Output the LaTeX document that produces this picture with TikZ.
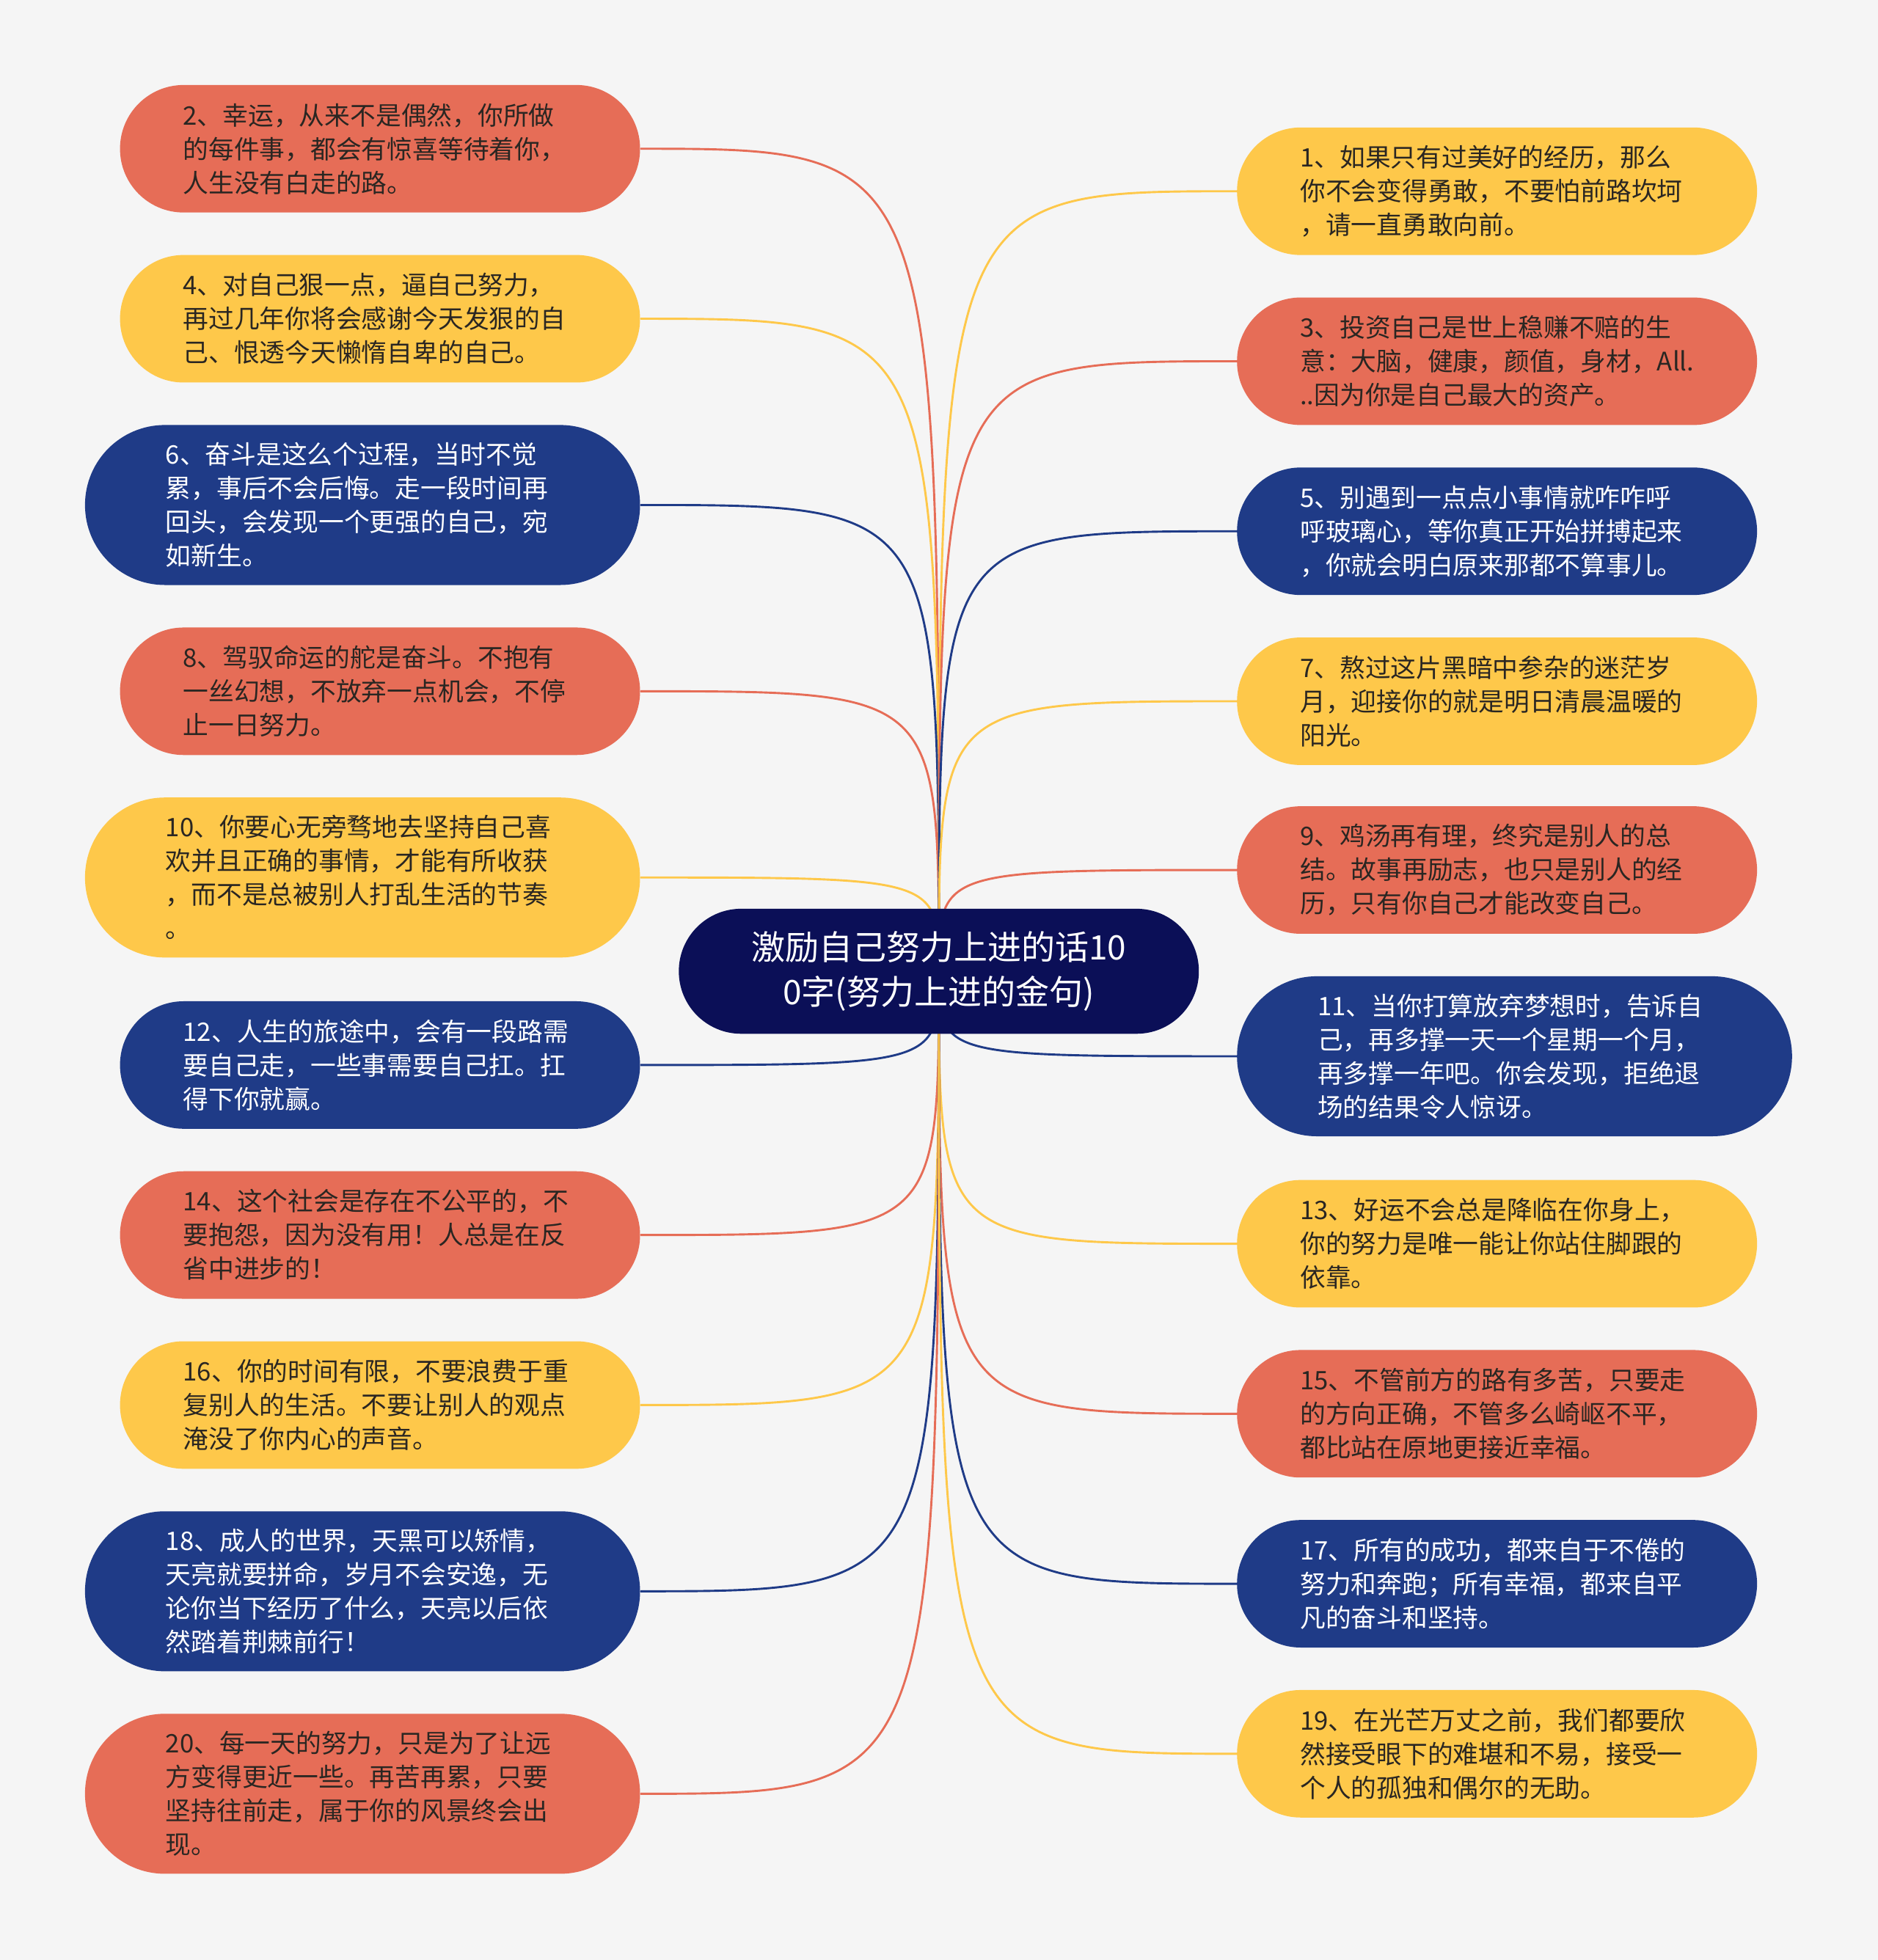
\documentclass[tikz,border=0pt]{standalone}
\usepackage{fontspec}
\setmainfont{Noto Sans CJK SC}
\pgfdeclarelayer{back}
\pgfdeclarelayer{bg}
\pgfsetlayers{back,bg,main}
\definecolor{cred}{HTML}{E66D57}
\definecolor{cyel}{HTML}{FEC84A}
\definecolor{cblue}{HTML}{1F3B87}
\definecolor{cnavy}{HTML}{0B0F57}
\definecolor{cdark}{HTML}{2A2622}
\definecolor{cbg}{HTML}{F5F5F5}
\tikzset{
  leaf/.style={align=left, text width=315pt, inner sep=0pt, font=\fontsize{20.4}{27}\selectfont},
  std/.style={leaf, minimum width=416pt, minimum height=102pt, rounded corners=50.9pt},
  wide/.style={leaf, minimum width=444pt, minimum height=128pt, rounded corners=63.9pt},
  redn/.style={fill=cred, text=cdark},
  yeln/.style={fill=cyel, text=cdark},
  bluen/.style={fill=cblue, text=white},
  rootn/.style={fill=cnavy, text=white, align=center, inner sep=0pt, minimum width=416pt, minimum height=100pt, rounded corners=49.9pt, font=\fontsize{27}{35.5}\selectfont},
  link/.style={line width=1.7pt},
}
\begin{document}
\begin{tikzpicture}[x=1pt,y=-1pt]
\begin{pgfonlayer}{back}
\fill[cbg] (0,0) rectangle (1502,1568);
\end{pgfonlayer}
\useasboundingbox (0,0) rectangle (1502,1568);

\node[rootn] (c) at (751,777) {激励自己努力上进的话10\\0字(努力上进的金句)};

% left column
\node[std,redn] (n2) at (304,119) {2、幸运，从来不是偶然，你所做\\的每件事，都会有惊喜等待着你，\\人生没有白走的路。};
\node[std,yeln] (n4) at (304,255) {4、对自己狠一点，逼自己努力，\\再过几年你将会感谢今天发狠的自\\己、恨透今天懒惰自卑的自己。};
\node[wide,bluen] (n6) at (290,404) {6、奋斗是这么个过程，当时不觉\\累，事后不会后悔。走一段时间再\\回头，会发现一个更强的自己，宛\\如新生。};
\node[std,redn] (n8) at (304,553) {8、驾驭命运的舵是奋斗。不抱有\\一丝幻想，不放弃一点机会，不停\\止一日努力。};
\node[wide,yeln] (n10) at (290,702) {10、你要心无旁骛地去坚持自己喜\\欢并且正确的事情，才能有所收获\\，而不是总被别人打乱生活的节奏\\。};
\node[std,bluen] (n12) at (304,852) {12、人生的旅途中，会有一段路需\\要自己走，一些事需要自己扛。扛\\得下你就赢。};
\node[std,redn] (n14) at (304,988) {14、这个社会是存在不公平的，不\\要抱怨，因为没有用！人总是在反\\省中进步的！};
\node[std,yeln] (n16) at (304,1124) {16、你的时间有限，不要浪费于重\\复别人的生活。不要让别人的观点\\淹没了你内心的声音。};
\node[wide,bluen] (n18) at (290,1273) {18、成人的世界，天黑可以矫情，\\天亮就要拼命，岁月不会安逸，无\\论你当下经历了什么，天亮以后依\\然踏着荆棘前行！};
\node[wide,redn] (n20) at (290,1435) {20、每一天的努力，只是为了让远\\方变得更近一些。再苦再累，只要\\坚持往前走，属于你的风景终会出\\现。};

% right column
\node[std,yeln] (n1) at (1197.5,153) {1、如果只有过美好的经历，那么\\你不会变得勇敢，不要怕前路坎坷\\，请一直勇敢向前。};
\node[std,redn] (n3) at (1197.5,289) {3、投资自己是世上稳赚不赔的生\\意：大脑，健康，颜值，身材，All.\\..因为你是自己最大的资产。};
\node[std,bluen] (n5) at (1197.5,425) {5、别遇到一点点小事情就咋咋呼\\呼玻璃心，等你真正开始拼搏起来\\，你就会明白原来那都不算事儿。};
\node[std,yeln] (n7) at (1197.5,561) {7、熬过这片黑暗中参杂的迷茫岁\\月，迎接你的就是明日清晨温暖的\\阳光。};
\node[std,redn] (n9) at (1197.5,696) {9、鸡汤再有理，终究是别人的总\\结。故事再励志，也只是别人的经\\历，只有你自己才能改变自己。};
\node[wide,bluen] (n11) at (1211.5,845) {11、当你打算放弃梦想时，告诉自\\己，再多撑一天一个星期一个月，\\再多撑一年吧。你会发现，拒绝退\\场的结果令人惊讶。};
\node[std,yeln] (n13) at (1197.5,995) {13、好运不会总是降临在你身上，\\你的努力是唯一能让你站住脚跟的\\依靠。};
\node[std,redn] (n15) at (1197.5,1131) {15、不管前方的路有多苦，只要走\\的方向正确，不管多么崎岖不平，\\都比站在原地更接近幸福。};
\node[std,bluen] (n17) at (1197.5,1267) {17、所有的成功，都来自于不倦的\\努力和奔跑；所有幸福，都来自平\\凡的奋斗和坚持。};
\node[std,yeln] (n19) at (1197.5,1403) {19、在光芒万丈之前，我们都要欣\\然接受眼下的难堪和不易，接受一\\个人的孤独和偶尔的无助。};

\begin{pgfonlayer}{bg}
\foreach \n/\col in {n2/cred,n4/cyel,n6/cblue,n8/cred,n10/cyel,n12/cblue,n14/cred,n16/cyel,n18/cblue,n20/cred}
  \draw[link,\col] (c.center) .. controls (c.center |- \n.east) .. (\n.east);
\foreach \n/\col in {n1/cyel,n3/cred,n5/cblue,n7/cyel,n9/cred,n11/cblue,n13/cyel,n15/cred,n17/cblue,n19/cyel}
  \draw[link,\col] (c.center) .. controls (c.center |- \n.west) .. (\n.west);
\end{pgfonlayer}
\end{tikzpicture}
\end{document}
